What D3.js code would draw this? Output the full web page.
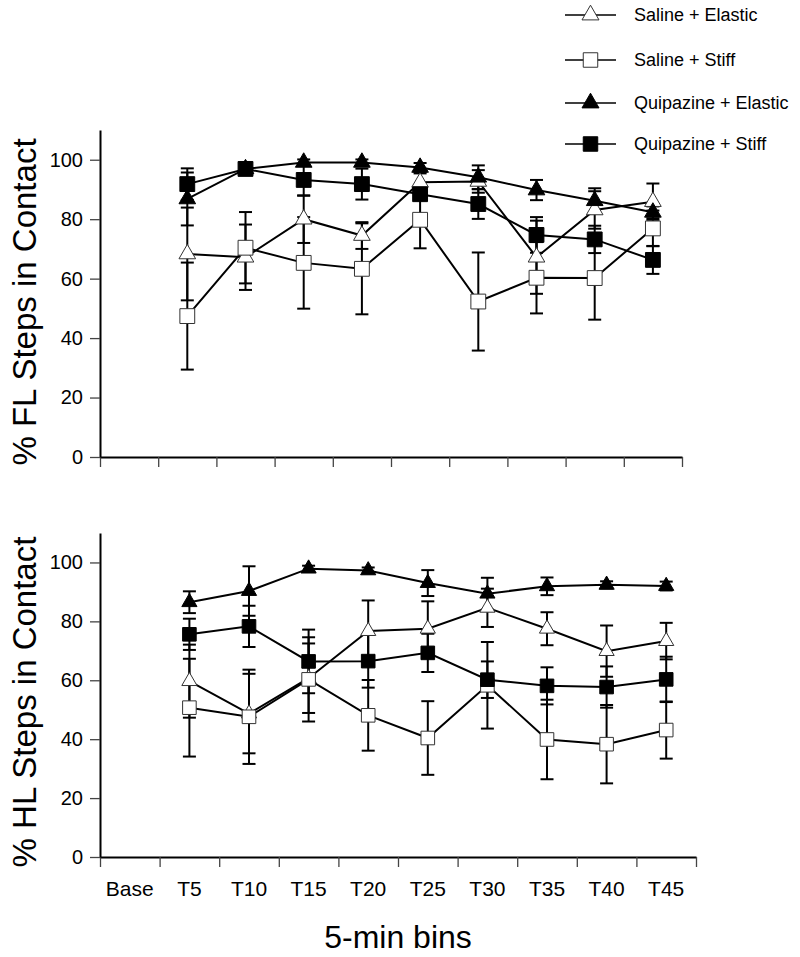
<!DOCTYPE html>
<html>
<head>
<meta charset="utf-8">
<script src="https://cdn.jsdelivr.net/npm/d3@7/dist/d3.min.js"></script>
<style>
  html, body { margin: 0; padding: 0; background: #fff; }
  svg { display: block; font-family: "Liberation Sans", Arial, Helvetica, sans-serif; }
</style>
</head>
<body>
<svg id="chart" width="800" height="957"></svg>
<script>
// ---------- DATA ----------
const categories = ["Base", "T5", "T10", "T15", "T20", "T25", "T30", "T35", "T40", "T45"];
const timepoints = ["T5", "T10", "T15", "T20", "T25", "T30", "T35", "T40", "T45"];
const seriesNames = ["Saline + Elastic", "Saline + Stiff", "Quipazine + Elastic", "Quipazine + Stiff"];
const yTicks = [0, 20, 40, 60, 80, 100];

// Forelimb (% FL Steps in Contact)
const flSalineElastic       = [68.3, 67.2, 80.0, 74.5, 92.4, 92.7, 67.2, 83.1, 85.9];
const flSalineElasticErr    = [15.6, 11.0, 8.0, 4.5, 3.0, 3.8, 12.3, 6.3, 6.1];
const flSalineStiff         = [47.4, 70.4, 65.3, 63.3, 79.8, 52.3, 60.3, 60.2, 76.9];
const flSalineStiffErr      = [18.0, 12.0, 15.4, 15.3, 9.6, 16.5, 12.0, 14.0, 6.0];
const flQuipazineElastic    = [86.8, 96.9, 99.1, 99.1, 97.4, 94.1, 89.8, 86.2, 82.3];
const flQuipazineElasticErr = [8.9, 1.0, 1.0, 1.0, 1.5, 4.0, 3.4, 4.2, 2.0];
const flQuipazineStiff      = [91.8, 96.9, 93.2, 91.8, 88.4, 85.1, 74.7, 73.2, 66.3];
const flQuipazineStiffErr   = [5.3, 1.0, 5.3, 5.2, 2.0, 5.0, 6.0, 4.6, 4.7];

// Hindlimb (% HL Steps in Contact)
const hlSalineElastic       = [59.7, 48.7, 60.7, 76.7, 77.5, 84.6, 77.5, 69.9, 73.3];
const hlSalineElasticErr    = [12.4, 13.5, 11.8, 10.4, 9.3, 6.5, 5.6, 8.7, 6.2];
const hlSalineStiff         = [50.7, 47.6, 60.3, 48.1, 40.4, 58.3, 39.9, 38.3, 43.1];
const hlSalineStiffErr      = [16.6, 16.0, 14.3, 12.0, 12.5, 14.7, 13.5, 13.3, 9.7];
const hlQuipazineElastic    = [86.5, 90.3, 97.9, 97.3, 93.0, 89.4, 91.9, 92.4, 92.0];
const hlQuipazineElasticErr = [3.7, 8.4, 1.0, 1.0, 4.4, 5.4, 3.0, 1.2, 1.5];
const hlQuipazineStiff      = [75.6, 78.3, 66.4, 66.5, 69.3, 60.2, 58.1, 57.7, 60.3];
const hlQuipazineStiffErr   = [5.3, 7.0, 10.8, 9.0, 6.5, 6.2, 6.3, 7.0, 7.7];

const flSeries = [
  {name: seriesNames[0], vals: flSalineElastic, errs: flSalineElasticErr},
  {name: seriesNames[1], vals: flSalineStiff, errs: flSalineStiffErr},
  {name: seriesNames[2], vals: flQuipazineElastic, errs: flQuipazineElasticErr},
  {name: seriesNames[3], vals: flQuipazineStiff, errs: flQuipazineStiffErr}
];
const hlSeries = [
  {name: seriesNames[0], vals: hlSalineElastic, errs: hlSalineElasticErr},
  {name: seriesNames[1], vals: hlSalineStiff, errs: hlSalineStiffErr},
  {name: seriesNames[2], vals: hlQuipazineElastic, errs: hlQuipazineElasticErr},
  {name: seriesNames[3], vals: hlQuipazineStiff, errs: hlQuipazineStiffErr}
];

// marker style per series
const markerStyle = [
  {shape: d3.symbolTriangle, fill: "#fff"},
  {shape: d3.symbolSquare, fill: "#fff"},
  {shape: d3.symbolTriangle, fill: "#000"},
  {shape: d3.symbolSquare, fill: "#000"}
];

const svg = d3.select("#chart");

function drawPanel(cfg) {
  const x = d3.scaleBand().domain(categories).range([cfg.x0, cfg.x1]).paddingInner(0).paddingOuter(0);
  const xEdge = d3.scaleLinear().domain([0, categories.length]).range([cfg.x0, cfg.x1]);
  const y = d3.scaleLinear().domain([0, 110]).range([cfg.yBottom, cfg.yTop]);
  const g = svg.append("g");

  // x axis tick marks at band boundaries
  const xAxisG = g.append("g")
    .attr("transform", `translate(0,${cfg.yBottom})`)
    .call(d3.axisBottom(xEdge).tickValues(d3.range(0, categories.length + 1)).tickSize(10).tickSizeOuter(0).tickFormat(""));
  xAxisG.select(".domain").attr("stroke", "#000").attr("stroke-width", 2);
  xAxisG.selectAll(".tick line").attr("stroke", "#444").attr("stroke-width", 1.3);

  if (cfg.labels) {
    const lab = g.append("g")
      .attr("transform", `translate(0,${cfg.yBottom})`)
      .call(d3.axisBottom(x).tickSize(0).tickPadding(24));
    lab.select(".domain").remove();
    lab.selectAll("text").attr("font-size", 21).attr("fill", "#000")
      .attr("font-family", "Liberation Sans, Arial, sans-serif");
  }

  // y axis
  const yAxisG = g.append("g")
    .attr("transform", `translate(${cfg.x0},0)`)
    .call(d3.axisLeft(y).tickValues(yTicks).tickSize(10).tickSizeOuter(0).tickPadding(7));
  yAxisG.select(".domain").attr("stroke", "#000").attr("stroke-width", 2);
  yAxisG.selectAll(".tick line").attr("stroke", "#444").attr("stroke-width", 1.3);
  yAxisG.selectAll("text").attr("font-size", 20).attr("fill", "#000")
    .attr("font-family", "Liberation Sans, Arial, sans-serif");

  // y title
  g.append("text")
    .attr("transform", `translate(36,${cfg.titleY}) rotate(-90)`)
    .attr("text-anchor", "middle")
    .attr("font-size", 33)
    .text(cfg.yTitle);

  const cx = t => x(t) + x.bandwidth() / 2;
  const capW = 6.5;

  // error bars
  cfg.series.forEach(s => {
    const eg = g.append("g");
    timepoints.forEach((t, i) => {
      const v = s.vals[i], e = s.errs[i];
      const xx = cx(t);
      eg.append("line").attr("x1", xx).attr("x2", xx).attr("y1", y(v - e)).attr("y2", y(v + e))
        .attr("stroke", "#000").attr("stroke-width", 2);
      [v - e, v + e].forEach(b => {
        eg.append("line").attr("x1", xx - capW).attr("x2", xx + capW).attr("y1", y(b)).attr("y2", y(b))
          .attr("stroke", "#000").attr("stroke-width", 2);
      });
    });
  });

  // lines and markers
  const line = d3.line().x((d) => cx(d.t)).y(d => y(d.v));
  cfg.series.forEach((s, si) => {
    const pts = timepoints.map((t, i) => ({t, v: s.vals[i]}));
    g.append("path").datum(pts).attr("d", line).attr("fill", "none")
      .attr("stroke", "#000").attr("stroke-width", 2);
    const ms = markerStyle[si];
    const size = ms.shape === d3.symbolSquare ? cfg.sqSize : cfg.triSize;
    g.append("g").selectAll("path").data(pts).join("path")
      .attr("transform", d => `translate(${cx(d.t)},${y(d.v)})`)
      .attr("d", d3.symbol().type(ms.shape).size(size))
      .attr("fill", ms.fill)
      .attr("stroke", ms.fill === "#fff" ? "#333" : "#000")
      .attr("stroke-width", 1);
  });
}

drawPanel({x0: 100, x1: 682, yTop: 130, yBottom: 457, series: flSeries,
  yTitle: "% FL Steps in Contact", titleY: 302, labels: false, sqSize: 220, triSize: 120});
drawPanel({x0: 100, x1: 696, yTop: 533, yBottom: 857, series: hlSeries,
  yTitle: "% HL Steps in Contact", titleY: 702, labels: true, sqSize: 185, triSize: 100});

// x title
svg.append("text")
  .attr("x", 398).attr("y", 948)
  .attr("text-anchor", "middle")
  .attr("font-size", 32)
  .text("5-min bins");

// legend
const legendY = [15, 60, 103, 144];
const lg = svg.append("g");
seriesNames.forEach((n, i) => {
  const row = lg.append("g").attr("transform", `translate(0,${legendY[i]})`);
  row.append("line").attr("x1", 565).attr("x2", 616).attr("y1", 0).attr("y2", 0)
    .attr("stroke", "#000").attr("stroke-width", 1.5);
  const ms = markerStyle[i];
  row.append("path")
    .attr("transform", "translate(590.5,0)")
    .attr("d", d3.symbol().type(ms.shape).size(ms.shape === d3.symbolSquare ? 210 : 125))
    .attr("fill", ms.fill)
    .attr("stroke", ms.fill === "#fff" ? "#333" : "#000")
    .attr("stroke-width", 1);
  row.append("text").attr("x", 634).attr("y", 0).attr("dy", "0.35em")
    .attr("font-size", 18).text(n);
});
</script>
</body>
</html>
